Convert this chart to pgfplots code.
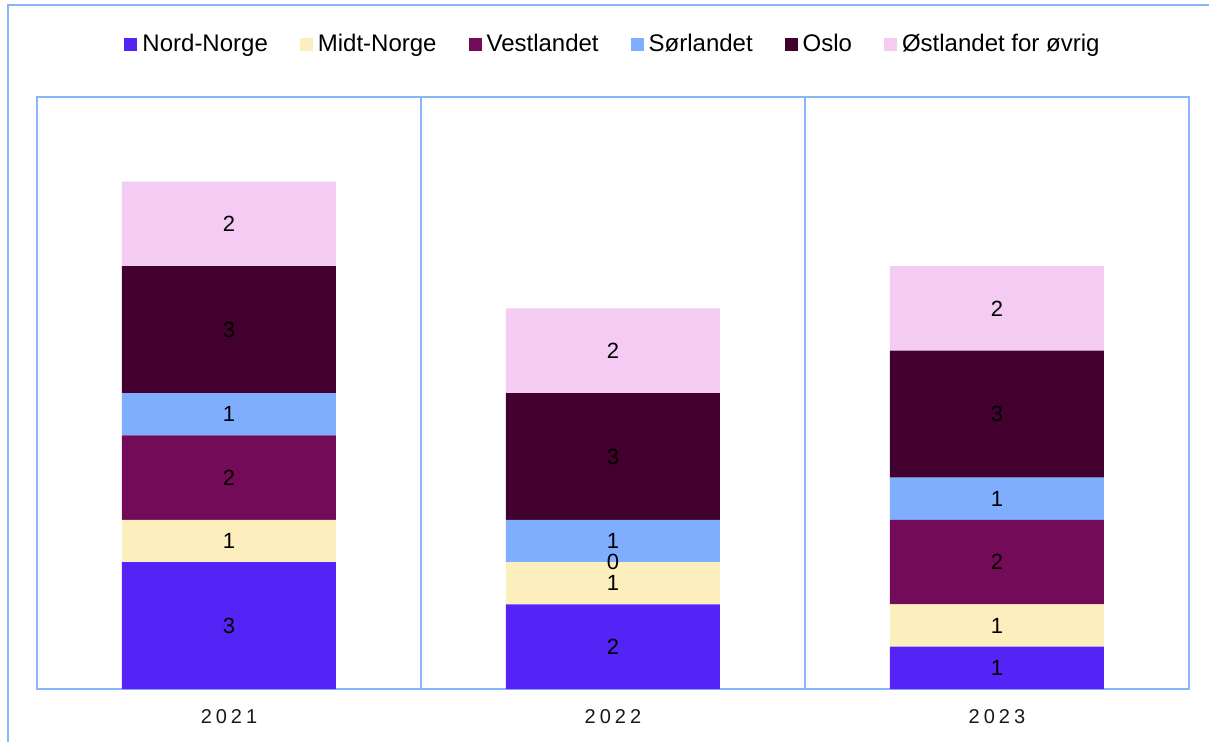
\documentclass[border=0pt]{standalone}
\usepackage{fontspec}
\setmainfont{Liberation Sans}
\usepackage{pgfplots}
\pgfplotsset{compat=1.18}
\definecolor{cNord}{HTML}{5423F6}
\definecolor{cMidt}{HTML}{FCEFBD}
\definecolor{cVest}{HTML}{740B58}
\definecolor{cSor}{HTML}{80AEFF}
\definecolor{cOslo}{HTML}{42002E}
\definecolor{cOst}{HTML}{F3CBF3}
\definecolor{frm}{HTML}{8AB4F8}
\pgfplotsset{
  common/.style={
    at={(37pt,53pt)}, anchor=south west,
    scale only axis, width=1152pt, height=592pt,
    xmin=-0.5, xmax=2.5, ymin=0, ymax=14,
    ytick=\empty, major tick length=0pt,
  },
  lbl/.style={
    point meta=explicit,
    nodes near coords={\pgfmathprintnumber[assume math mode=true]{\pgfplotspointmeta}},
    every node near coord/.append style={anchor=center, font=\fontsize{22}{26}\selectfont, text=black},
  }
}
\begin{document}
\begin{tikzpicture}[x=1pt,y=1pt]
\useasboundingbox (0,0) rectangle (1209,742);
\draw[frm, line width=2pt] (8,0) -- (8,737) -- (1209,737);
\begin{axis}[
  common, ybar stacked, bar width=214pt,
  xtick={0,1,2}, xticklabels={2021,2022,2023},
  extra x ticks={0.5,1.5}, extra x tick labels={},
  extra x tick style={grid=major},
  major grid style={frm, line width=1.5pt},
  axis line style={frm, line width=2pt},
  xticklabel style={font=\fontsize{20}{24}\selectfont\addfontfeatures{LetterSpace=20}, text=black!90, yshift=-17pt},
  legend columns=6,
  legend style={at={(0.5,1.0895)}, anchor=center, draw=none, fill=none, font=\fontsize{24}{28}\selectfont, /tikz/every even column/.append style={column sep=30pt}, /tikz/every odd column/.append style={column sep=3pt}},
  legend image code/.code={\fill[#1] (0pt,-6.5pt) rectangle (13pt,6.5pt);},
]
\addplot[fill=cNord, draw=none] coordinates {(0,3) (1,2) (2,1)};
\addlegendentry{Nord-Norge}
\addplot[fill=cMidt, draw=none] coordinates {(0,1) (1,1) (2,1)};
\addlegendentry{Midt-Norge}
\addplot[fill=cVest, draw=none] coordinates {(0,2) (1,0) (2,2)};
\addlegendentry{Vestlandet}
\addplot[fill=cSor, draw=none] coordinates {(0,1) (1,1) (2,1)};
\addlegendentry{Sørlandet}
\addplot[fill=cOslo, draw=none] coordinates {(0,3) (1,3) (2,3)};
\addlegendentry{Oslo}
\addplot[fill=cOst, draw=none] coordinates {(0,2) (1,2) (2,2)};
\addlegendentry{Østlandet for øvrig}
\end{axis}
% value labels, drawn above all bars
\begin{axis}[common, ybar stacked, bar width=214pt, hide axis, lbl]
\addplot[draw=none, fill=none] coordinates {(0,3) [3] (1,2) [2] (2,1) [1]};
\addplot[draw=none, fill=none] coordinates {(0,1) [1] (1,1) [1] (2,1) [1]};
\addplot[draw=none, fill=none] coordinates {(0,2) [2] (1,0) [0] (2,2) [2]};
\addplot[draw=none, fill=none] coordinates {(0,1) [1] (1,1) [1] (2,1) [1]};
\addplot[draw=none, fill=none] coordinates {(0,3) [3] (1,3) [3] (2,3) [3]};
\addplot[draw=none, fill=none] coordinates {(0,2) [2] (1,2) [2] (2,2) [2]};
\end{axis}
% label of the zero-height Vestlandet 2022 segment (at stack height 2+1+0)
\begin{axis}[common, hide axis, lbl]
\addplot[draw=none, mark=none] coordinates {(1,3) [0]};
\end{axis}
\end{tikzpicture}
\end{document}
